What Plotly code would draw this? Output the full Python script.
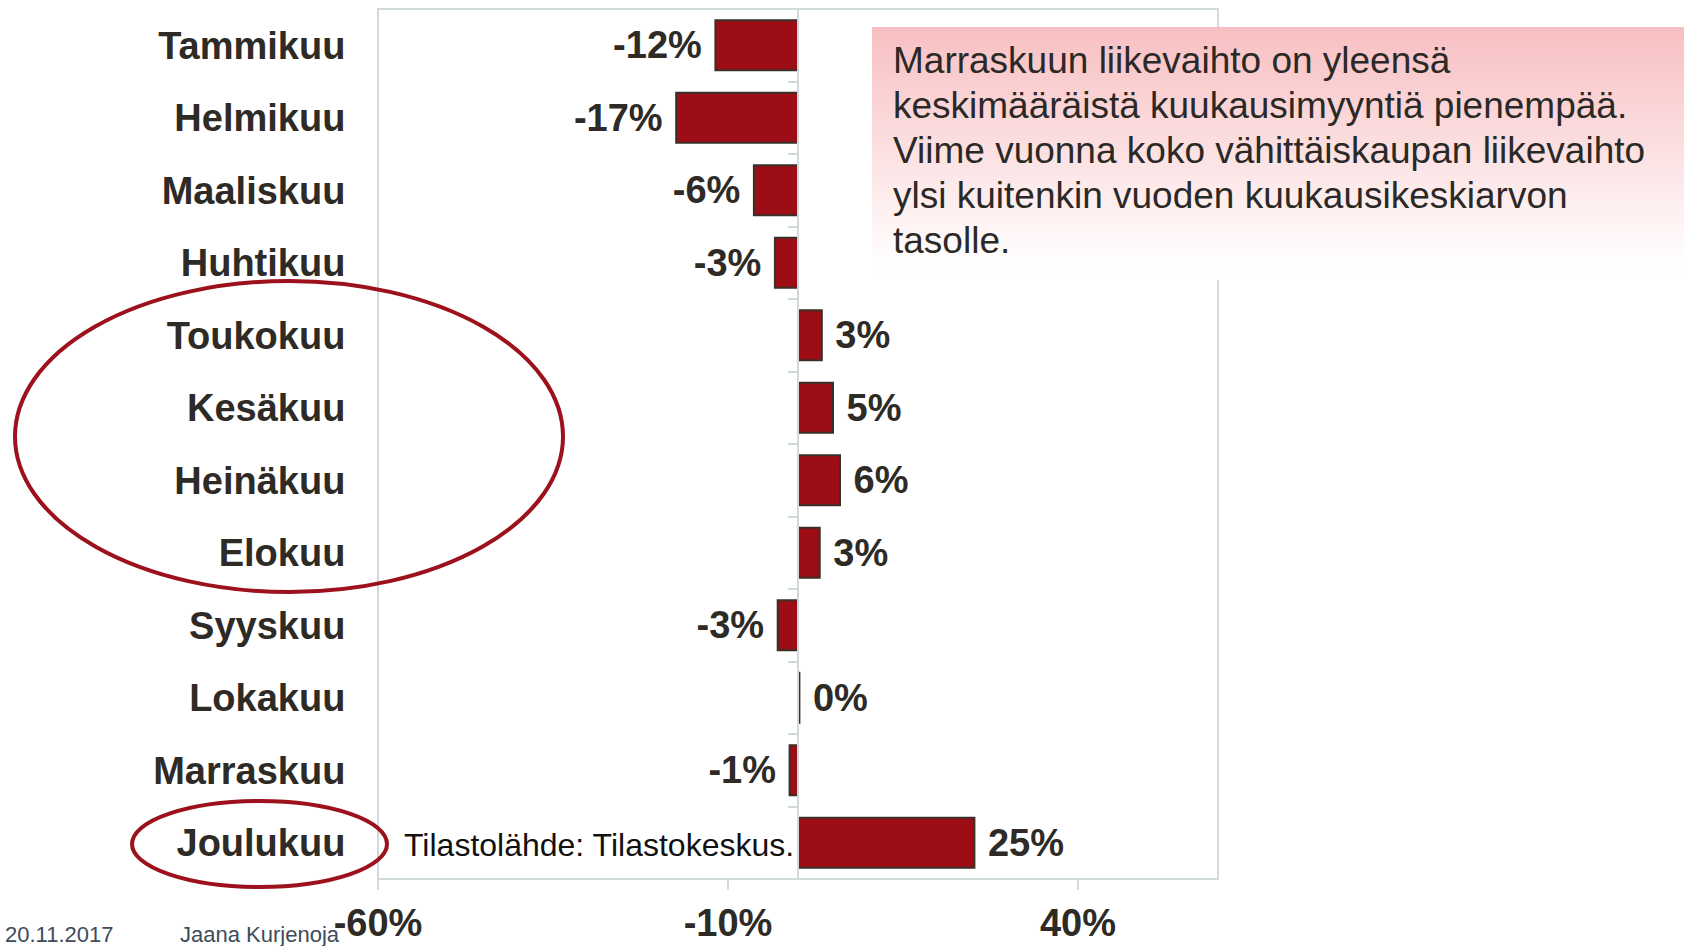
import plotly.graph_objects as go

months = ["Tammikuu", "Helmikuu", "Maaliskuu", "Huhtikuu", "Toukokuu", "Kesäkuu",
          "Heinäkuu", "Elokuu", "Syyskuu", "Lokakuu", "Marraskuu", "Joulukuu"]
values = [-11.8, -17.4, -6.3, -3.3, 3.4, 5.0, 6.0, 3.1, -2.9, 0.2, -1.2, 25.2]
x_tickvals = [-60, -10, 40]
x_ticktext = ["-60%", "-10%", "40%"]
note_lines = ["Marraskuun liikevaihto on yleensä",
              "keskimääräistä kuukausimyyntiä pienempää.",
              "Viime vuonna koko vähittäiskaupan liikevaihto",
              "ylsi kuitenkin vuoden kuukausikeskiarvon",
              "tasolle."]
source_text = "Tilastolähde: Tilastokeskus."
footer_date = "20.11.2017"
footer_author = "Jaana Kurjenoja"

W, H = 1684, 946
DARK = "#2e2a25"
BAR = "#9c0d15"
GRID = "#d0dadc"
RED_LINE = "#9c111b"
FONT_B = "Liberation Sans, Arial, sans-serif"

labels = [(f" {v:.0f}%" if v >= 0 else f"{v:.0f}% ") for v in values]

xd = [378 / W, 1218 / W]
yd = [1 - 879 / H, 1 - 9 / H]

fig = go.Figure()

fig.add_trace(go.Bar(
    x=values, y=months, orientation="h",
    marker=dict(color=BAR, line=dict(color="#3a3028", width=2)),
    width=0.69,
    text=labels, textposition="outside", cliponaxis=False,
    textfont=dict(family=FONT_B, size=38, color=DARK, weight="bold"),
    hoverinfo="skip",
))

# invisible trace on secondary y-axis (center line with boundary ticks)
fig.add_trace(go.Scatter(x=[0], y=[0], xaxis="x", yaxis="y2", mode="markers",
                         marker=dict(opacity=0), hoverinfo="skip", showlegend=False))

# gradient note box on a full-page helper subplot
fig.add_trace(go.Scatter(
    x=[872 / W, 1, 1, 872 / W, 872 / W],
    y=[1 - 27 / H, 1 - 27 / H, 1 - 280 / H, 1 - 280 / H, 1 - 27 / H],
    xaxis="x3", yaxis="y3", mode="lines", line=dict(width=0),
    fill="toself",
    fillgradient=dict(type="vertical",
                      colorscale=[[0, "rgb(255,255,255)"], [0.1, "rgb(255,252,252)"], [1, "#f8bfc2"]]),
    hoverinfo="skip", showlegend=False,
))

fig.update_layout(
    width=W, height=H,
    margin=dict(l=0, r=0, t=0, b=0),
    paper_bgcolor="white", plot_bgcolor="rgba(0,0,0,0)",
    showlegend=False,
    xaxis=dict(domain=xd, range=[-60, 60], tickvals=x_tickvals, ticktext=x_ticktext,
               showgrid=False, zeroline=False, ticks="outside", ticklen=10,
               tickcolor=GRID, tickwidth=2, ticklabelstandoff=0,
               tickfont=dict(family=FONT_B, size=38, color=DARK, weight="bold"),
               showline=False, automargin=False, fixedrange=True),
    yaxis=dict(domain=yd, categoryorder="array", categoryarray=months,
               range=[11.5, -0.5],
               showgrid=False, zeroline=False, ticks="outside", ticklen=24,
               tickcolor="rgba(0,0,0,0)",
               tickfont=dict(family=FONT_B, size=38, color=DARK, weight="bold"),
               showline=False, automargin=False, fixedrange=True),
    yaxis2=dict(domain=yd, overlaying="y", anchor="free", position=(xd[0] + xd[1]) / 2,
                range=[11.5, -0.5], tickvals=[i + 0.5 for i in range(len(months) - 1)],
                ticks="outside", ticklen=9, tickcolor=GRID, tickwidth=2,
                showticklabels=False, showgrid=False, zeroline=False,
                showline=True, linecolor=GRID, linewidth=2, fixedrange=True),
    xaxis3=dict(domain=[0, 1], range=[0, 1], visible=False, anchor="y3", fixedrange=True),
    yaxis3=dict(domain=[0, 1], range=[0, 1], visible=False, anchor="x3", fixedrange=True),
)

# plot border
fig.add_shape(type="rect", xref="paper", yref="paper", x0=xd[0], x1=xd[1], y0=yd[0], y1=yd[1],
              line=dict(color=GRID, width=2), layer="below")

# ellipses
fig.add_shape(type="circle", xref="paper", yref="paper",
              x0=15 / W, x1=563 / W, y0=1 - 592 / H, y1=1 - 281 / H,
              line=dict(color=RED_LINE, width=4))
fig.add_shape(type="circle", xref="paper", yref="paper",
              x0=132 / W, x1=387 / W, y0=1 - 887 / H, y1=1 - 801 / H,
              line=dict(color=RED_LINE, width=4))

# note text
for i, line in enumerate(note_lines):
    fig.add_annotation(text=line, xref="paper", yref="paper",
                       x=891 / W, y=1 - (60 + 45 * i) / H, xanchor="left", yanchor="middle",
                       showarrow=False,
                       font=dict(family=FONT_B, size=37, color="#2b2926"))

fig.add_annotation(text=source_text, xref="x", yref="y", x=0, y=months[-1],
                   xanchor="right", yanchor="middle", xshift=-2, yshift=-2, showarrow=False,
                   font=dict(family=FONT_B, size=32, color="#111111"))

fig.add_annotation(text=footer_date, xref="paper", yref="paper", x=3 / W, y=1 - 934 / H,
                   xanchor="left", yanchor="middle", showarrow=False,
                   font=dict(family=FONT_B, size=22, color="#3d4b5c"))
fig.add_annotation(text=footer_author, xref="paper", yref="paper", x=178 / W, y=1 - 934 / H,
                   xanchor="left", yanchor="middle", showarrow=False,
                   font=dict(family=FONT_B, size=22, color="#3d4b5c"))

fig.write_html("out.html", config={"displayModeBar": False, "staticPlot": True})

with open("out.html", "r", encoding="utf-8") as f:
    html = f.read()
html = html.replace("<head>", "<head><style>html,body{margin:0;padding:0;overflow:hidden;}</style>", 1)
with open("out.html", "w", encoding="utf-8") as f:
    f.write(html)
